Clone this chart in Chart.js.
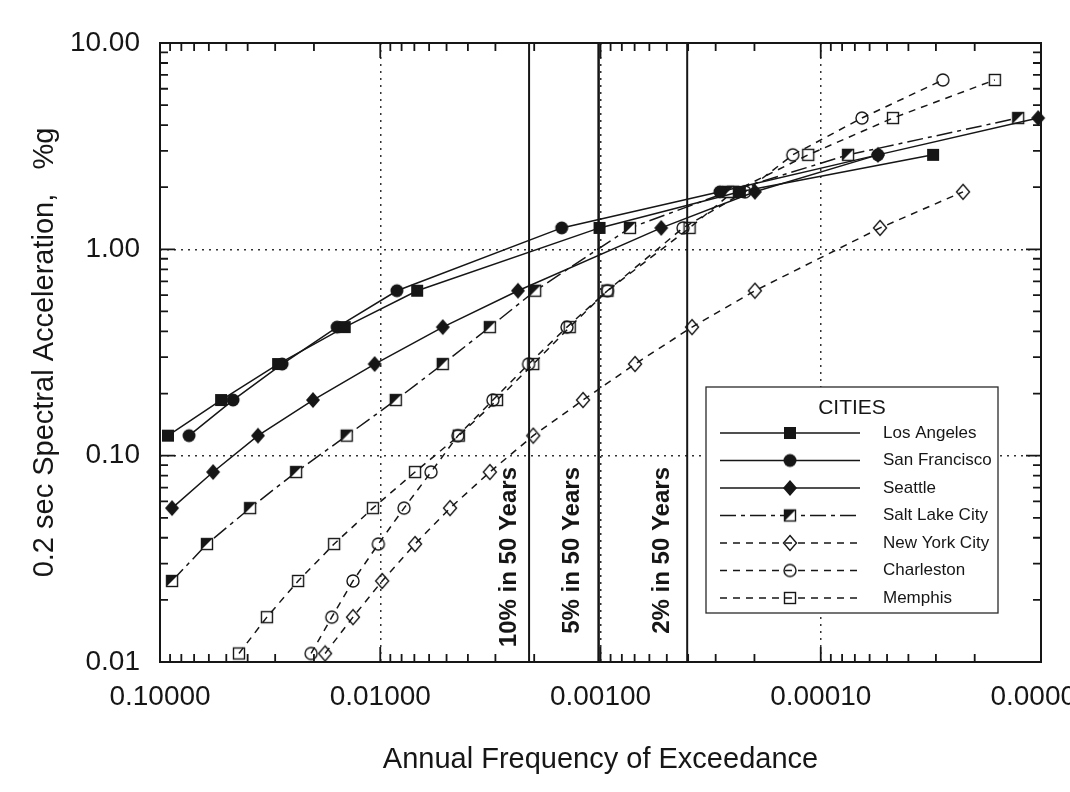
<!DOCTYPE html>
<html>
<head>
<meta charset="utf-8">
<title>Hazard curves</title>
<script src="https://cdn.jsdelivr.net/npm/chart.js@4.4.1/dist/chart.umd.min.js"></script>
<style>
  html, body { margin: 0; padding: 0; background: #fff; overflow: hidden; }
  canvas { display: block; }
</style>
</head>
<body>
<canvas id="hazard" width="1070" height="792"></canvas>
<script>
// values: x = annual frequency of exceedance, y = 0.2 sec SA (%g)
const cityNames = ['Los Angeles', 'San Francisco', 'Seattle', 'Salt Lake City', 'New York City', 'Charleston', 'Memphis'];

const laFreq = [0.092, 0.0528, 0.0291, 0.0145, 0.0068, 0.00101, 0.000233, 0.0000309];
const laAcc  = [0.125, 0.186, 0.278, 0.42, 0.63, 1.27, 1.9, 2.87];

const sfFreq = [0.0738, 0.0466, 0.0279, 0.0157, 0.0084, 0.0015, 0.000287, 0.000055];
const sfAcc  = [0.125, 0.186, 0.278, 0.42, 0.63, 1.27, 1.9, 2.87];

const seaFreq = [0.0882, 0.0574, 0.0359, 0.0202, 0.0106, 0.0052, 0.00237, 0.00053, 0.000199, 0.000055, 0.0000103];
const seaAcc  = [0.0557, 0.0833, 0.125, 0.186, 0.278, 0.42, 0.63, 1.27, 1.9, 2.87, 4.33];

const slcFreq = [0.0882, 0.0612, 0.039, 0.0241, 0.0142, 0.0085, 0.0052, 0.00318, 0.00198, 0.000735, 0.000264, 0.0000752, 0.0000127];
const slcAcc  = [0.0247, 0.0373, 0.0557, 0.0833, 0.125, 0.186, 0.278, 0.42, 0.63, 1.27, 1.9, 2.87, 4.33];

const nycFreq = [0.0178, 0.0133, 0.0098, 0.00695, 0.00482, 0.00318, 0.00202, 0.0012, 0.000697, 0.000384, 0.000199, 0.0000538, 0.0000226];
const nycAcc  = [0.011, 0.0165, 0.0247, 0.0373, 0.0557, 0.0833, 0.125, 0.186, 0.278, 0.42, 0.63, 1.27, 1.9];

const chsFreq = [0.0206, 0.0166, 0.0133, 0.0102, 0.0078, 0.00588, 0.00444, 0.00308, 0.00212, 0.00142, 0.00093, 0.000422, 0.000221, 0.000134, 0.000065, 0.0000279];
const chsAcc  = [0.011, 0.0165, 0.0247, 0.0373, 0.0557, 0.0833, 0.125, 0.186, 0.278, 0.42, 0.63, 1.27, 1.9, 2.87, 4.33, 6.62];

const memFreq = [0.0438, 0.0327, 0.0236, 0.0162, 0.0108, 0.00695, 0.0044, 0.00295, 0.00202, 0.00138, 0.00093, 0.000394, 0.00025, 0.000114, 0.000047, 0.0000162];
const memAcc  = [0.011, 0.0165, 0.0247, 0.0373, 0.0557, 0.0833, 0.125, 0.186, 0.278, 0.42, 0.63, 1.27, 1.9, 2.87, 4.33, 6.62];

// probability-of-exceedance reference lines
const poeLabels = ['10% in 50 Years', '5% in 50 Years', '2% in 50 Years'];
const poeFreq   = [0.00211, 0.00102, 0.000404];

const xTickValues = [0.1, 0.01, 0.001, 0.0001, 0.00001];
const yTickValues = [10, 1, 0.1, 0.01];
const minorSteps  = [1, 2, 3, 4, 5, 6, 7, 8, 9];

const FONT = '"Liberation Sans", Arial, Helvetica, sans-serif';
const INK = '#161616';

function makeMarker(kind){
    const s = 18;
    const c = document.createElement('canvas');
    c.width = s; c.height = s;
    const g = c.getContext('2d');
    const m = s / 2;
    g.strokeStyle = INK; g.fillStyle = INK; g.lineWidth = 1.4;
    if (kind === 'fsquare'){
        g.fillRect(m - 6, m - 6, 12, 12);
    } else if (kind === 'fcircle'){
        g.beginPath(); g.arc(m, m, 6.5, 0, Math.PI * 2); g.fill();
    } else if (kind === 'fdiamond'){
        g.beginPath(); g.moveTo(m, m - 8); g.lineTo(m + 7, m); g.lineTo(m, m + 8); g.lineTo(m - 7, m); g.closePath(); g.fill();
    } else if (kind === 'hsquare'){
        g.fillStyle = '#fff'; g.fillRect(m - 6, m - 6, 12, 12);
        g.fillStyle = INK;
        g.beginPath(); g.moveTo(m - 6, m - 6); g.lineTo(m + 6, m - 6); g.lineTo(m - 6, m + 6); g.closePath(); g.fill();
        g.strokeRect(m - 5.5, m - 5.5, 11, 11);
    } else if (kind === 'odiamond'){
        g.beginPath(); g.moveTo(m, m - 7.5); g.lineTo(m + 6.5, m); g.lineTo(m, m + 7.5); g.lineTo(m - 6.5, m); g.closePath(); g.stroke();
    } else if (kind === 'ocircle'){
        g.beginPath(); g.arc(m, m, 6, 0, Math.PI * 2); g.stroke();
    } else if (kind === 'osquare'){
        g.strokeRect(m - 5.5, m - 5.5, 11, 11);
    }
    return c;
}

const seriesDefs = [
    {freq: laFreq,  acc: laAcc,  marker: 'fsquare',  dash: []},
    {freq: sfFreq,  acc: sfAcc,  marker: 'fcircle',  dash: []},
    {freq: seaFreq, acc: seaAcc, marker: 'fdiamond', dash: []},
    {freq: slcFreq, acc: slcAcc, marker: 'hsquare',  dash: [16, 5, 4, 5]},
    {freq: nycFreq, acc: nycAcc, marker: 'odiamond', dash: [7, 6]},
    {freq: chsFreq, acc: chsAcc, marker: 'ocircle',  dash: [7, 6]},
    {freq: memFreq, acc: memAcc, marker: 'osquare',  dash: [7, 6]},
];

const cityDatasets = seriesDefs.map((s, i) => ({
    label: cityNames[i],
    data: s.freq.map((f, k) => ({x: f, y: s.acc[k]})),
    showLine: true,
    borderColor: INK,
    borderWidth: 1.5,
    borderDash: s.dash,
    tension: 0,
    pointStyle: makeMarker(s.marker),
    pointRadius: 7,
    pointHoverRadius: 7,
    clip: 12,
}));

const poeDatasets = poeFreq.map((f, i) => ({
    label: poeLabels[i],
    data: [{x: f, y: 0.01}, {x: f, y: 10}],
    showLine: true,
    borderColor: INK,
    borderWidth: i === 1 ? 2.5 : 2,
    pointRadius: 0,
}));

const isInner = (v, list) => v !== list[0] && v !== list[list.length - 1];

// frame, inward ticks on all four sides, probability labels, boxed legend
const decorations = {
    id: 'decorations',
    afterDatasetsDraw(chart){
        const ctx = chart.ctx;
        const {left, right, top, bottom} = chart.chartArea;
        const xs = chart.scales.x, ys = chart.scales.y;

        ctx.save();
        ctx.fillStyle = INK;
        ctx.font = 'bold 24px ' + FONT;
        ctx.textAlign = 'right';
        ctx.textBaseline = 'middle';
        const labelShift = [20, 26, 25];
        poeFreq.forEach((f, i) => {
            const px = xs.getPixelForValue(f);
            ctx.save();
            ctx.translate(px - labelShift[i], 467);
            ctx.rotate(-Math.PI / 2);
            ctx.fillText(poeLabels[i], 0, 0);
            ctx.restore();
        });
        ctx.restore();

        ctx.save();
        ctx.strokeStyle = INK;
        ctx.lineWidth = 2;
        ctx.strokeRect(left, top, right - left, bottom - top);
        ctx.lineWidth = 1.8;
        ctx.beginPath();
        xTickValues.slice(1).forEach(d => {
            minorSteps.forEach(k => {
                const v = d * k;
                if (v <= xs.min || v >= xs.max) return;
                const px = xs.getPixelForValue(v);
                const len = k === 1 ? 15 : 8;
                ctx.moveTo(px, bottom); ctx.lineTo(px, bottom - len);
                ctx.moveTo(px, top); ctx.lineTo(px, top + len);
            });
        });
        yTickValues.slice(1).forEach(d => {
            minorSteps.forEach(k => {
                const v = d * k;
                if (v <= ys.min || v >= ys.max) return;
                const py = ys.getPixelForValue(v);
                const len = k === 1 ? 15 : 8;
                ctx.moveTo(left, py); ctx.lineTo(left + len, py);
                ctx.moveTo(right, py); ctx.lineTo(right - len, py);
            });
        });
        ctx.stroke();
        ctx.restore();

        // legend box
        const box = {x: 706, y: 387, w: 292, h: 226};
        ctx.save();
        ctx.fillStyle = '#fff';
        ctx.fillRect(box.x, box.y, box.w, box.h);
        ctx.strokeStyle = '#2a2a2a';
        ctx.lineWidth = 1.3;
        ctx.strokeRect(box.x, box.y, box.w, box.h);
        ctx.fillStyle = INK;
        ctx.font = '21px ' + FONT;
        ctx.textAlign = 'center';
        ctx.textBaseline = 'middle';
        ctx.fillText('CITIES', 852, 408);
        ctx.font = '17px ' + FONT;
        ctx.textAlign = 'left';
        cityDatasets.forEach((ds, i) => {
            const y = 433 + i * 27.5;
            ctx.strokeStyle = INK;
            ctx.lineWidth = 1.5;
            ctx.setLineDash(ds.borderDash);
            ctx.beginPath(); ctx.moveTo(720, y); ctx.lineTo(860, y); ctx.stroke();
            ctx.setLineDash([]);
            const img = ds.pointStyle;
            ctx.drawImage(img, 790 - img.width / 2, y - img.height / 2);
            ctx.fillText(ds.label, 883, y);
        });
        ctx.restore();
    }
};

new Chart(document.getElementById('hazard'), {
    type: 'scatter',
    data: { datasets: [...cityDatasets, ...poeDatasets] },
    options: {
        responsive: false,
        animation: false,
        events: [],
        layout: { padding: { left: 0, top: 43, right: 29, bottom: 0 } },
        plugins: { legend: { display: false }, tooltip: { enabled: false } },
        scales: {
            x: {
                type: 'logarithmic',
                reverse: true,
                min: 0.00001,
                max: 0.1,
                afterBuildTicks: scale => { scale.ticks = xTickValues.map(v => ({value: v})); },
                afterFit: scale => { scale.height = 130; scale.paddingLeft = 0; scale.paddingRight = 0; },
                grid: {
                    drawTicks: false,
                    lineWidth: 1.5,
                    color: c => (c.tick && isInner(c.tick.value, xTickValues)) ? '#333' : 'rgba(0,0,0,0)',
                },
                border: { display: false, dash: [2, 5] },
                ticks: {
                    autoSkip: false,
                    maxRotation: 0,
                    padding: 18,
                    color: INK,
                    font: { size: 28, family: FONT },
                    callback: v => Number(v).toFixed(5),
                },
                title: {
                    display: true,
                    text: 'Annual Frequency of Exceedance',
                    color: INK,
                    font: { size: 29, family: FONT },
                    padding: { top: 0, bottom: 15 },
                },
            },
            y: {
                type: 'logarithmic',
                min: 0.01,
                max: 10,
                afterBuildTicks: scale => { scale.ticks = yTickValues.map(v => ({value: v})); },
                afterFit: scale => { scale.width = 160; scale.paddingTop = 0; scale.paddingBottom = 0; },
                grid: {
                    drawTicks: false,
                    lineWidth: 1.5,
                    color: c => (c.tick && isInner(c.tick.value, yTickValues)) ? '#333' : 'rgba(0,0,0,0)',
                },
                border: { display: false, dash: [2, 5] },
                ticks: {
                    autoSkip: false,
                    padding: 20,
                    color: INK,
                    font: { size: 28, family: FONT },
                    callback: v => Number(v).toFixed(2),
                },
                title: {
                    display: true,
                    text: '0.2 sec Spectral Acceleration,   %g',
                    color: INK,
                    font: { size: 29, family: FONT },
                    padding: { top: 28, bottom: 0 },
                },
            },
        },
    },
    plugins: [decorations],
});
</script>
</body>
</html>
